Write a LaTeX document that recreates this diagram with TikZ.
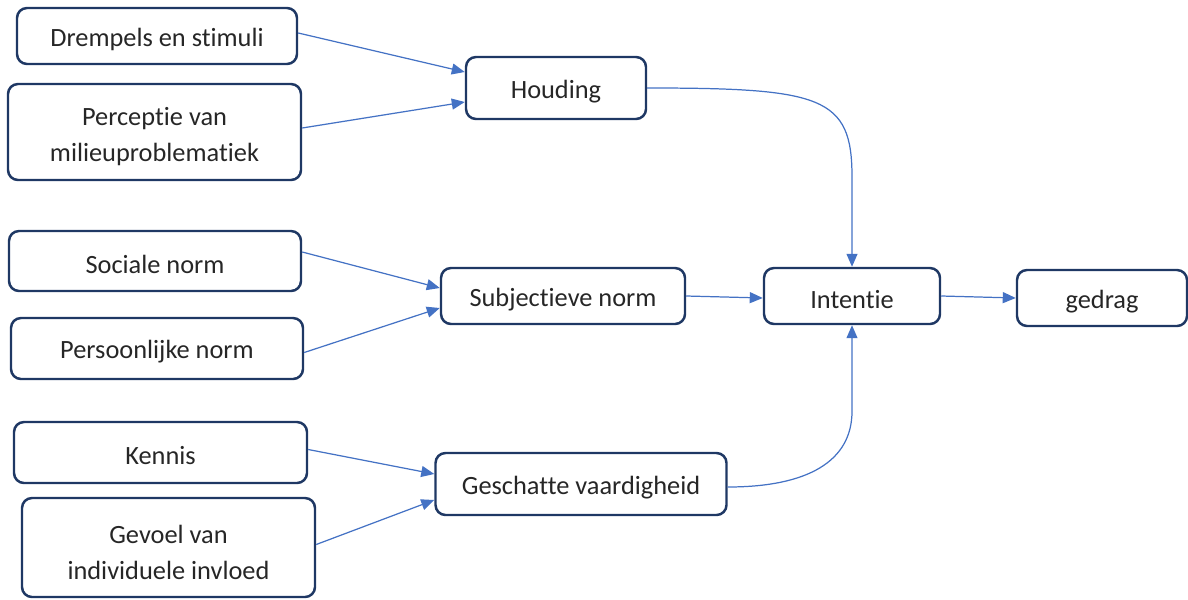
\documentclass[tikz,border=0pt]{standalone}
\usepackage{fontspec}
\setmainfont[Ligatures=NoCommon]{Carlito}
\usetikzlibrary{arrows.meta}
\definecolor{boxline}{HTML}{1F3864}
\definecolor{pijl}{HTML}{4472C4}

\begin{document}
\begin{tikzpicture}[
  blok/.style={draw=boxline, line width=1.4pt, rounded corners=0.2cm, align=center,
    font=\fontsize{15}{20.5}\selectfont, text=black!85, inner sep=0pt,
    execute at begin node={\rule{0pt}{14.2pt}}},
  tweeregels/.style={text height=36.5pt},
  pijl/.style={draw=pijl, line width=0.7pt, -{Triangle[length=0.26cm,width=0.22cm]}}
]
\useasboundingbox (0,0) rectangle (23.76,-11.98);

\node[blok, minimum width=5.6cm, minimum height=1.12cm] (drempels) at (3.14,-0.72) {Drempels en stimuli};
\node[blok, tweeregels, minimum width=5.86cm, minimum height=1.92cm] (perceptie) at (3.09,-2.64) {Perceptie van\\milieuproblematiek};
\node[blok, minimum width=3.6cm, minimum height=1.24cm] (houding) at (11.12,-1.76) {Houding};

\node[blok, minimum width=5.84cm, minimum height=1.2cm] (sociale) at (3.1,-5.22) {Sociale norm};
\node[blok, minimum width=5.84cm, minimum height=1.22cm] (persoonlijk) at (3.14,-6.97) {Persoonlijke norm};
\node[blok, minimum width=4.88cm, minimum height=1.12cm] (subjectief) at (11.26,-5.92) {Subjectieve norm};

\node[blok, minimum width=3.52cm, minimum height=1.12cm] (intentie) at (17.04,-5.92) {Intentie};
\node[blok, minimum width=3.4cm, minimum height=1.12cm] (gedrag) at (22.04,-5.96) {gedrag};

\node[blok, minimum width=5.86cm, minimum height=1.22cm] (kennis) at (3.21,-9.05) {Kennis};
\node[blok, tweeregels, minimum width=5.86cm, minimum height=1.98cm] (gevoel) at (3.37,-10.95) {Gevoel van\\individuele invloed};
\node[blok, minimum width=5.82cm, minimum height=1.24cm] (geschat) at (11.62,-9.68) {Geschatte vaardigheid};

\draw[pijl] ([yshift=0.06cm]drempels.east) -- ([yshift=0.32cm]houding.west);
\draw[pijl] ([yshift=0.08cm]perceptie.east) -- ([yshift=-0.28cm]houding.west);
\draw[pijl] (houding.east) .. controls +(3.5,0) and +(0,1.6) .. ([yshift=1.8cm]intentie.north) -- (intentie.north);

\draw[pijl] ([yshift=0.18cm]sociale.east) -- ([yshift=0.16cm]subjectief.west);
\draw[pijl] ([yshift=-0.08cm]persoonlijk.east) -- ([yshift=-0.24cm]subjectief.west);
\draw[pijl] (subjectief.east) -- ([yshift=-0.04cm]intentie.west);
\draw[pijl] (intentie.east) -- (gedrag.west);

\draw[pijl] ([yshift=0.06cm]kennis.east) -- ([yshift=0.2cm]geschat.west);
\draw[pijl] ([yshift=0.06cm]gevoel.east) -- ([yshift=-0.32cm]geschat.west);
\draw[pijl] ([yshift=-0.06cm]geschat.east) .. controls +(1.6,0) and +(0,-1.0) .. ([yshift=-1.72cm]intentie.south) -- (intentie.south);
\end{tikzpicture}
\end{document}
